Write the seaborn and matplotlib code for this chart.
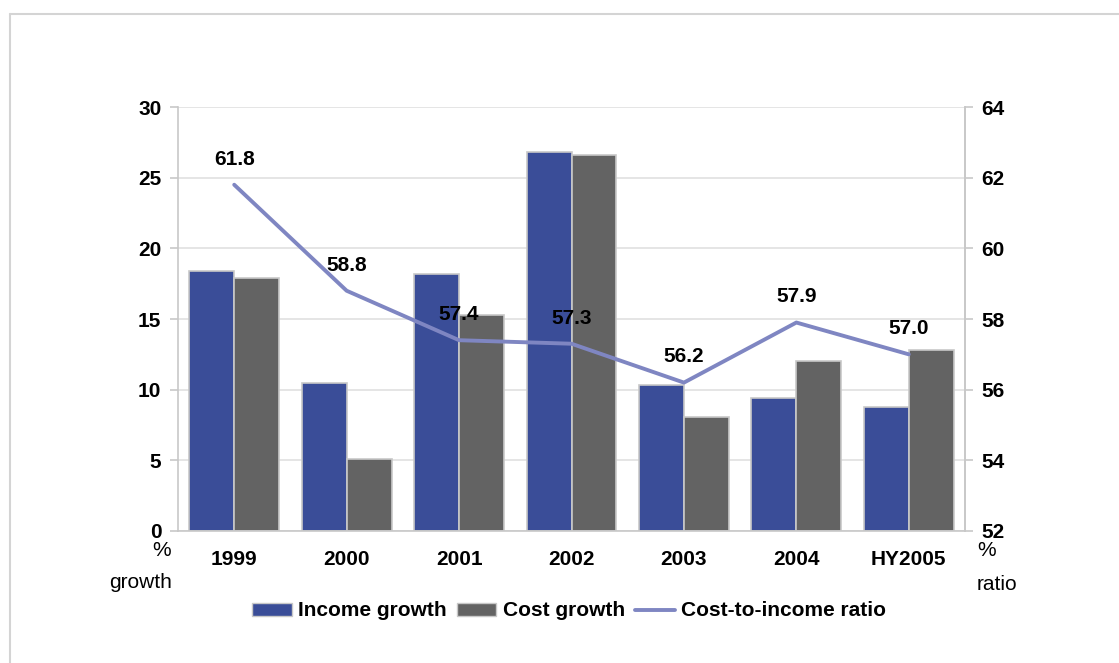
import matplotlib
matplotlib.use("Agg")
import matplotlib.pyplot as plt
from matplotlib.lines import Line2D
from matplotlib.patches import Patch
import seaborn as sns
import pandas as pd

categories = ["1999", "2000", "2001", "2002", "2003", "2004", "HY2005"]
income_growth = [18.4, 10.5, 18.2, 26.8, 10.3, 9.4, 8.8]
cost_growth = [17.9, 5.1, 15.3, 26.6, 8.1, 12.0, 12.8]
cost_income_ratio = [61.8, 58.8, 57.4, 57.3, 56.2, 57.9, 57.0]
left_ticks = [0, 5, 10, 15, 20, 25, 30]
right_ticks = [52, 54, 56, 58, 60, 62, 64]

sns.set_theme(style="white")
plt.rcParams["font.family"] = ["Liberation Sans", "DejaVu Sans"]
plt.rcParams["text.color"] = "black"
plt.rcParams["xtick.labelcolor"] = "black"
plt.rcParams["ytick.labelcolor"] = "black"

FS = 15
BLUE = "#3A4D98"
GRAY = "#636363"
LINE = "#7F86C2"
EDGE = "#C8C8C8"
GRID = "#E0E0E0"

df = pd.DataFrame({
    "cat": categories * 2,
    "value": income_growth + cost_growth,
    "series": ["Income growth"] * len(categories) + ["Cost growth"] * len(categories),
})

fig = plt.figure(figsize=(11.19, 6.63), dpi=100)
ax = fig.add_axes([178 / 1119, 1 - 531 / 663, (965 - 178) / 1119, (531 - 107) / 663])

sns.barplot(data=df, x="cat", y="value", hue="series", order=categories,
            hue_order=["Income growth", "Cost growth"],
            palette=[BLUE, GRAY], width=0.8, edgecolor=EDGE, linewidth=1.2,
            saturation=1, ax=ax, legend=False, zorder=2)

ax.set_xlim(-0.5, len(categories) - 0.5)
ax.set_ylim(0, 30)
ax.set_yticks(left_ticks)
ax.set_yticklabels([str(t) for t in left_ticks], fontsize=FS, fontweight="bold")
ax.set_xticks(range(len(categories)))
ax.set_xticklabels(categories, fontsize=FS, fontweight="bold")
ax.tick_params(axis="x", which="major", length=0, pad=14, labelcolor="black")
ax.set_xticks([i + 0.5 for i in range(-1, len(categories))], minor=True)
ax.tick_params(axis="x", which="minor", length=6, color=EDGE, width=1.2, direction="out")
ax.tick_params(axis="y", length=6, color=EDGE, width=1.2, direction="out", pad=6,
               labelcolor="black")
ax.set_xlabel("")
ax.set_ylabel("")
ax.yaxis.grid(True, color=GRID, linewidth=1.2)
ax.set_axisbelow(True)
ax.spines["top"].set_visible(False)
for s in ["left", "bottom", "right"]:
    ax.spines[s].set_color(EDGE)
    ax.spines[s].set_linewidth(1.2)

ax2 = ax.twinx()
sns.lineplot(x=list(range(len(categories))), y=cost_income_ratio, color=LINE,
             linewidth=2.8, ax=ax2, zorder=3)
ax2.set_ylim(52, 64)
ax2.set_yticks(right_ticks)
ax2.set_yticklabels([str(t) for t in right_ticks], fontsize=FS, fontweight="bold")
ax2.tick_params(axis="y", length=6, color=EDGE, width=1.2, direction="out", pad=6,
                labelcolor="black")
for s in ["top", "left", "bottom"]:
    ax2.spines[s].set_visible(False)
ax2.spines["right"].set_color(EDGE)
ax2.spines["right"].set_linewidth(1.2)
ax2.grid(False)

for i, v in enumerate(cost_income_ratio):
    ax2.annotate(f"{v:.1f}", (i, v), xytext=(0, 18.5), textcoords="offset points",
                 ha="center", va="center", fontsize=FS, fontweight="bold",
                 color="black")

# axis unit labels
fig.text(171 / 1119, 1 - 550 / 663, "%", ha="right", va="center", fontsize=FS)
fig.text(172 / 1119, 1 - 583 / 663, "growth", ha="right", va="center", fontsize=FS)
fig.text(977 / 1119, 1 - 550 / 663, "%", ha="left", va="center", fontsize=FS)
fig.text(977 / 1119, 1 - 584 / 663, "ratio", ha="left", va="center", fontsize=FS)

# legend
handles = [Patch(facecolor=BLUE, edgecolor=EDGE, label="Income growth"),
           Patch(facecolor=GRAY, edgecolor=EDGE, label="Cost growth"),
           Line2D([0], [0], color=LINE, linewidth=2.8, label="Cost-to-income ratio")]
fig.legend(handles=handles, loc="center", bbox_to_anchor=(569 / 1119, 1 - 611 / 663),
           ncol=3, frameon=False, prop={"size": FS, "weight": "bold"},
           handlelength=1.9, handleheight=0.6, handletextpad=0.3, columnspacing=0.5)

# outer border lines (top and left)
fig.add_artist(Line2D([10 / 1119, 1.0], [1 - 14 / 663, 1 - 14 / 663],
                      transform=fig.transFigure, color="#D4D4D4", linewidth=1.5))
fig.add_artist(Line2D([10 / 1119, 10 / 1119], [0.0, 1 - 14 / 663],
                      transform=fig.transFigure, color="#D4D4D4", linewidth=1.5))

fig.savefig("out.png", dpi=100, facecolor="white")
